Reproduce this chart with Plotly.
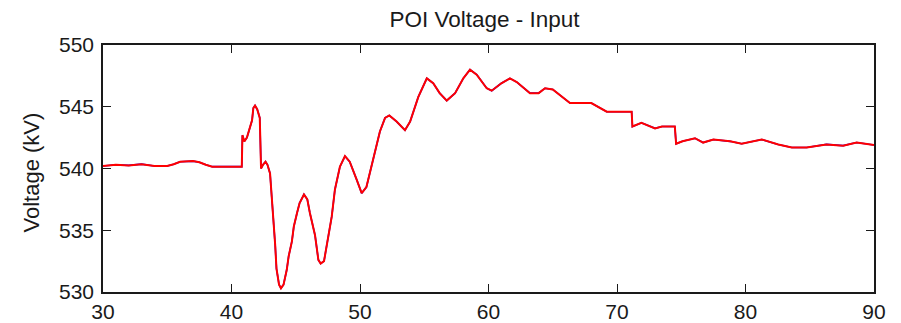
import plotly.graph_objects as go

time_s = [30.0, 31.0, 32.0, 33.0, 34.0, 35.0, 35.5, 36.0, 37.0, 37.5, 38.0, 38.5, 39.5, 40.8,
          40.85, 41.0, 41.2, 41.45, 41.6, 41.7, 41.83, 42.0, 42.2, 42.3, 42.45, 42.65, 42.8,
          43.0, 43.13, 43.25, 43.4, 43.5, 43.7, 43.85, 44.05, 44.3, 44.45, 44.7, 44.85, 45.1,
          45.3, 45.64, 45.9, 46.1, 46.5, 46.76, 46.94, 47.2, 47.5, 47.8, 48.05, 48.44, 48.83,
          49.2, 49.74, 50.13, 50.5, 50.9, 51.3, 51.55, 51.95, 52.28, 52.85, 53.5, 53.9, 54.54,
          55.2, 55.7, 56.2, 56.75, 57.4, 58.04, 58.56, 59.08, 59.86, 60.25, 61.0, 61.67, 62.2,
          63.23, 63.9, 64.4, 65.0, 65.8, 66.34, 68.0, 69.2, 71.14, 71.2, 71.9, 72.96, 73.5,
          74.5, 74.6, 75.1, 76.07, 76.7, 77.5, 78.8, 79.7, 81.26, 82.55, 83.6, 84.76, 86.3,
          87.6, 88.65, 90.0]

voltage_kv = [540.2, 540.3, 540.25, 540.35, 540.2, 540.2, 540.35, 540.55, 540.6, 540.5, 540.3,
              540.15, 540.15, 540.15, 542.7, 542.2, 542.5, 543.3, 543.9, 544.9, 545.1, 544.8,
              544.1, 540.0, 540.3, 540.55, 540.3, 539.6, 537.9, 535.8, 533.8, 531.9, 530.6,
              530.3, 530.6, 531.8, 532.9, 534.1, 535.3, 536.4, 537.2, 537.9, 537.5, 536.4,
              534.6, 532.6, 532.3, 532.5, 534.2, 536.1, 538.3, 540.15, 541.0, 540.55, 539.1,
              538.0, 538.5, 540.15, 542.0, 543.0, 544.1, 544.3, 543.8, 543.1, 543.8, 545.8,
              547.3, 546.9, 546.1, 545.5, 546.1, 547.3, 548.0, 547.6, 546.5, 546.3, 546.9,
              547.3, 547.0, 546.1, 546.1, 546.5, 546.4, 545.7, 545.3, 545.3, 544.6, 544.6,
              543.4, 543.7, 543.25, 543.4, 543.4, 542.0, 542.2, 542.45, 542.1, 542.35, 542.2,
              542.0, 542.35, 541.95, 541.7, 541.7, 541.95, 541.85, 542.1, 541.9]

x_ticks = [30, 40, 50, 60, 70, 80, 90]
y_ticks = [530, 535, 540, 545, 550]

FONT = "Liberation Sans, Arial, sans-serif"
INK = "#1a1a1a"

fig = go.Figure()
fig.add_trace(go.Scatter(x=time_s, y=voltage_kv, mode="lines",
                         line=dict(color="#0000ff", width=1.6),
                         name="Measured", showlegend=False))
fig.add_trace(go.Scatter(x=time_s, y=voltage_kv, mode="lines",
                         line=dict(color="#ff0000", width=2),
                         name="Input", showlegend=False))

axis_common = dict(showline=True, mirror="ticks", ticks="inside", ticklen=8,
                   tickwidth=1.2, tickcolor=INK, linecolor=INK, linewidth=1.5,
                   showgrid=False, zeroline=False, automargin=False,
                   tickfont=dict(family=FONT, size=21, color=INK))

# page body adds an 8px offset; figure sized to fit the 901x323 window
fig.update_layout(
    width=893, height=315,
    margin=dict(l=95, r=27, t=37, b=31),
    paper_bgcolor="white", plot_bgcolor="white",
    title=dict(text="POI Voltage - Input", x=476.5 / 893, xanchor="center",
               xref="container", yref="container", y=0.965, yanchor="middle",
               automargin=False,
               font=dict(family=FONT, size=22.5, color=INK)),
    xaxis=dict(range=[30, 90], tickvals=x_ticks, ticktext=[str(v) for v in x_ticks],
               ticklabelstandoff=0, **axis_common),
    yaxis=dict(range=[530, 550], tickvals=y_ticks, ticktext=[str(v) for v in y_ticks],
               ticklabelstandoff=3, **axis_common),
    annotations=[dict(text="Voltage (kV)", xref="paper", yref="paper", x=0, y=0.5,
                      xshift=-72, yshift=-4, textangle=-90, showarrow=False,
                      xanchor="center", yanchor="middle",
                      font=dict(family=FONT, size=22, color=INK))],
)

fig.write_html("out.html")
